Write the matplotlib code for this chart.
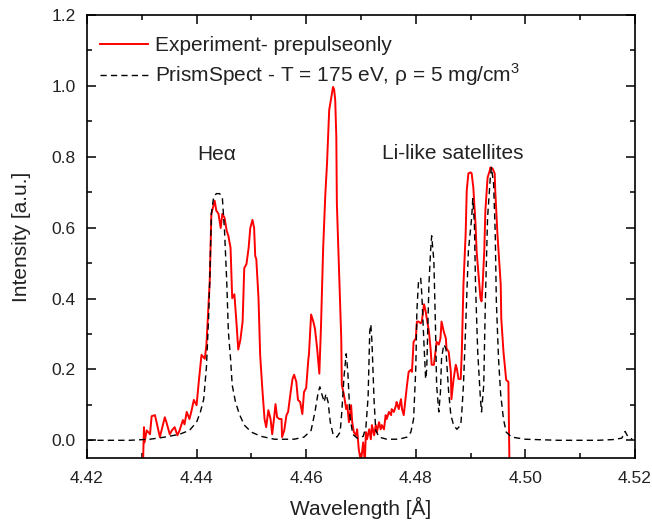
import numpy as np
import matplotlib
matplotlib.use("Agg")
import matplotlib.pyplot as plt
from matplotlib.ticker import MultipleLocator

plt.rcParams['font.family'] = ['Liberation Sans', 'DejaVu Sans']
plt.rcParams['mathtext.fontset'] = 'custom'
plt.rcParams['mathtext.rm'] = 'Liberation Sans'

# experiment (red)
exp_wl = [4.4302, 4.4304, 4.4305, 4.4309, 4.4315, 4.4318, 4.4324, 4.4327, 4.4333, 4.4336,
          4.4342, 4.4345, 4.4351, 4.4355, 4.4360, 4.4365, 4.4369, 4.4375, 4.4378, 4.4382,
          4.4387, 4.4391, 4.4395, 4.4400, 4.4404, 4.4409, 4.4415, 4.4418, 4.4422, 4.4424,
          4.4427, 4.4433, 4.4436, 4.4440, 4.4444, 4.4447, 4.4451, 4.4455, 4.4458, 4.4462,
          4.4465, 4.4469, 4.4473, 4.4476, 4.4480, 4.4484, 4.4487, 4.4491, 4.4495, 4.4498,
          4.4502, 4.4505, 4.4507, 4.4509, 4.4513, 4.4516, 4.4520, 4.4524, 4.4527, 4.4531,
          4.4535, 4.4538, 4.4542, 4.4544, 4.4547, 4.4551, 4.4555, 4.4556, 4.4560, 4.4564,
          4.4567, 4.4571, 4.4575, 4.4578, 4.4582, 4.4585, 4.4589, 4.4593, 4.4596, 4.4600,
          4.4604, 4.4605, 4.4609, 4.4613, 4.4616, 4.4620, 4.4624, 4.4627, 4.4631, 4.4635,
          4.4638, 4.4642, 4.4645, 4.4649, 4.4651, 4.4653, 4.4655, 4.4656, 4.4660, 4.4664,
          4.4665, 4.4669, 4.4673, 4.4675, 4.4678, 4.4682, 4.4684, 4.4687, 4.4691, 4.4693,
          4.4696, 4.4700, 4.4704, 4.4707, 4.4709, 4.4711, 4.4715, 4.4718, 4.4720, 4.4724,
          4.4727, 4.4729, 4.4733, 4.4736, 4.4738, 4.4742, 4.4745, 4.4747, 4.4751, 4.4755,
          4.4756, 4.4760, 4.4764, 4.4765, 4.4769, 4.4773, 4.4775, 4.4778, 4.4782, 4.4784,
          4.4787, 4.4791, 4.4793, 4.4796, 4.4800, 4.4802, 4.4805, 4.4809, 4.4811, 4.4815,
          4.4818, 4.4820, 4.4824, 4.4827, 4.4829, 4.4833, 4.4836, 4.4838, 4.4842, 4.4845,
          4.4847, 4.4851, 4.4855, 4.4856, 4.4860, 4.4864, 4.4865, 4.4869, 4.4873, 4.4875,
          4.4878, 4.4882, 4.4884, 4.4887, 4.4891, 4.4893, 4.4896, 4.4900, 4.4902, 4.4905,
          4.4909, 4.4911, 4.4915, 4.4918, 4.4920, 4.4922, 4.4925, 4.4927, 4.4931, 4.4935,
          4.4936, 4.4940, 4.4944, 4.4945, 4.4949, 4.4955, 4.4956, 4.4960, 4.4964, 4.4965,
          4.4969, 4.4971]
exp_int = [-0.08, 0.037, -0.006, 0.028, 0.017, 0.068, 0.071, 0.051, 0.009, 0.028,
           0.065, 0.051, 0.017, 0.028, 0.037, 0.014, 0.028, 0.057, 0.045, 0.080,
           0.060, 0.085, 0.114, 0.099, 0.165, 0.241, 0.230, 0.270, 0.392, 0.449,
           0.639, 0.676, 0.648, 0.639, 0.599, 0.639, 0.628, 0.591, 0.577, 0.543,
           0.401, 0.412, 0.327, 0.256, 0.284, 0.335, 0.486, 0.497, 0.543, 0.599,
           0.622, 0.599, 0.520, 0.511, 0.401, 0.241, 0.145, 0.060, 0.037, 0.085,
           0.060, 0.017, 0.071, 0.102, 0.065, 0.060, 0.060, 0.009, 0.028, 0.071,
           0.080, 0.128, 0.173, 0.185, 0.165, 0.114, 0.108, 0.074, 0.136, 0.148,
           0.230, 0.241, 0.355, 0.335, 0.315, 0.259, 0.188, 0.320, 0.543, 0.696,
           0.780, 0.932, 0.960, 0.997, 0.990, 0.960, 0.855, 0.668, 0.477, 0.287,
           0.156, 0.128, 0.088, 0.099, 0.051, 0.099, 0.051, 0.023, 0.014, 0.031,
           -0.026, -0.060, -0.006, -0.060, 0.023, 0.003, 0.031, 0.003, 0.043, 0.014,
           0.043, 0.023, 0.051, 0.031, 0.043, 0.031, 0.071, 0.060, 0.080, 0.071,
           0.088, 0.080, 0.099, 0.108, 0.088, 0.116, 0.088, 0.071, 0.128, 0.156,
           0.193, 0.199, 0.193, 0.278, 0.287, 0.335, 0.335, 0.330, 0.335, 0.384,
           0.364, 0.344, 0.307, 0.259, 0.213, 0.213, 0.250, 0.278, 0.270, 0.287,
           0.335, 0.307, 0.287, 0.259, 0.250, 0.193, 0.116, 0.173, 0.213, 0.202,
           0.173, 0.173, 0.250, 0.440, 0.582, 0.705, 0.753, 0.756, 0.753, 0.713,
           0.611, 0.534, 0.457, 0.401, 0.392, 0.440, 0.534, 0.648, 0.741, 0.761,
           0.770, 0.767, 0.753, 0.705, 0.582, 0.440, 0.344, 0.250, 0.185, 0.170,
           0.165, -0.08]

# PrismSpect simulation (dashed)
sim_wl = [4.4200, 4.4242, 4.4278, 4.4315, 4.4342, 4.4369, 4.4387, 4.4400, 4.4407, 4.4413,
          4.4418, 4.4422, 4.4424, 4.4427, 4.4431, 4.4436, 4.4442, 4.4447, 4.4451, 4.4455,
          4.4458, 4.4462, 4.4465, 4.4471, 4.4478, 4.4487, 4.4500, 4.4518, 4.4542, 4.4578,
          4.4596, 4.4609, 4.4616, 4.4622, 4.4625, 4.4629, 4.4633, 4.4636, 4.4640, 4.4644,
          4.4649, 4.4656, 4.4662, 4.4665, 4.4669, 4.4673, 4.4676, 4.4680, 4.4685, 4.4693,
          4.4704, 4.4709, 4.4713, 4.4716, 4.4718, 4.4720, 4.4724, 4.4727, 4.4733, 4.4747,
          4.4769, 4.4784, 4.4791, 4.4796, 4.4800, 4.4802, 4.4805, 4.4809, 4.4811, 4.4815,
          4.4818, 4.4820, 4.4824, 4.4827, 4.4829, 4.4833, 4.4836, 4.4838, 4.4842, 4.4845,
          4.4847, 4.4851, 4.4855, 4.4856, 4.4860, 4.4864, 4.4869, 4.4875, 4.4882, 4.4884,
          4.4887, 4.4891, 4.4896, 4.4902, 4.4904, 4.4907, 4.4909, 4.4913, 4.4918, 4.4920,
          4.4924, 4.4927, 4.4931, 4.4936, 4.4938, 4.4942, 4.4945, 4.4947, 4.4951, 4.4955,
          4.4960, 4.4965, 4.4975, 4.5000, 4.5060, 4.5133, 4.5160, 4.5176, 4.5182, 4.5187,
          4.5195]
sim_int = [0.000, 0.000, 0.000, 0.003, 0.009, 0.017, 0.028, 0.051, 0.080, 0.116,
           0.207, 0.349, 0.449, 0.639, 0.685, 0.696, 0.696, 0.685, 0.591, 0.449,
           0.307, 0.230, 0.156, 0.108, 0.074, 0.043, 0.023, 0.011, 0.003, 0.003,
           0.009, 0.028, 0.080, 0.136, 0.151, 0.128, 0.108, 0.131, 0.108, 0.051,
           0.017, 0.009, 0.023, 0.080, 0.179, 0.244, 0.193, 0.065, 0.017, 0.006,
           0.011, 0.037, 0.122, 0.307, 0.327, 0.278, 0.108, 0.028, 0.009, 0.003,
           0.003, 0.009, 0.023, 0.060, 0.202, 0.364, 0.449, 0.457, 0.412, 0.270,
           0.173, 0.202, 0.440, 0.534, 0.577, 0.506, 0.315, 0.156, 0.080, 0.136,
           0.230, 0.270, 0.259, 0.230, 0.136, 0.071, 0.043, 0.031, 0.043, 0.080,
           0.156, 0.320, 0.534, 0.628, 0.682, 0.611, 0.440, 0.250, 0.116, 0.080,
           0.156, 0.392, 0.628, 0.741, 0.770, 0.724, 0.582, 0.392, 0.230, 0.128,
           0.060, 0.023, 0.009, 0.003, 0.000, 0.000, 0.002, 0.006, 0.025, 0.010,
           0.003]

fig = plt.figure(figsize=(6.52, 5.21), dpi=100)
ax = fig.add_axes([0.1334, 0.1209, 0.8405, 0.8503])

ax.plot(exp_wl, exp_int, color='#ff0000', lw=1.4,
        label='Experiment- prepulseonly')
ax.plot(sim_wl, sim_int, color='black', lw=1.0, linestyle=(0, (4.5, 3)),
        label=r'PrismSpect - T = 175 eV, ρ = 5 mg/cm$^3$')

ax.set_xlim(4.42, 4.52)
ax.set_ylim(-0.05, 1.2)
ax.xaxis.set_major_locator(MultipleLocator(0.02))
ax.xaxis.set_minor_locator(MultipleLocator(0.01))
ax.yaxis.set_major_locator(MultipleLocator(0.2))
ax.yaxis.set_minor_locator(MultipleLocator(0.1))
ax.xaxis.set_major_formatter(plt.FormatStrFormatter('%.2f'))
ax.yaxis.set_major_formatter(plt.FormatStrFormatter('%.1f'))

ax.tick_params(which='both', direction='in', top=True, right=True,
               labelsize=12.5, width=1.1, colors='black')
ax.tick_params(which='major', length=6.5)
ax.tick_params(which='minor', length=3.8)
ax.tick_params(axis='x', pad=9, labelcolor='#222222')
ax.tick_params(axis='y', pad=8, labelcolor='#222222')
for s in ax.spines.values():
    s.set_linewidth(1.2)

ax.set_xlabel('Wavelength [Å]', fontsize=15, color='#222222', labelpad=8)
ax.set_ylabel('Intensity [a.u.]', fontsize=15, color='#222222', labelpad=15)

ax.text(4.4437, 0.805, 'Heα', fontsize=15, color='#222222', ha='center', va='center')
ax.text(4.4867, 0.81, 'Li-like satellites', fontsize=15, color='#222222',
        ha='center', va='center')

leg = ax.legend(loc='upper left', bbox_to_anchor=(0.0237, 0.952), frameon=False,
                fontsize=15, borderpad=0, borderaxespad=0, handlelength=2.3,
                handletextpad=0.35, labelspacing=0.3)
for t in leg.get_texts():
    t.set_color('#222222')

fig.savefig('out.png', dpi=100)
